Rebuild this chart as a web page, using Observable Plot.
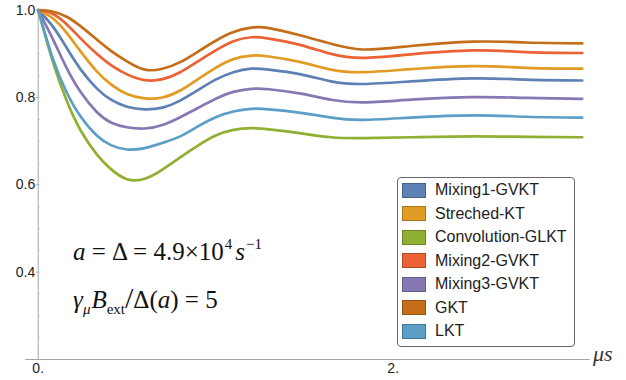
<!DOCTYPE html>
<html><head><meta charset="utf-8">
<script src="https://cdn.jsdelivr.net/npm/d3@7"></script>
<script src="https://cdn.jsdelivr.net/npm/@observablehq/plot@0.6"></script>
<style>
body{margin:0;background:#fff;}
#wrap{position:relative;width:626px;height:380px;overflow:hidden;}
#legend{position:absolute;left:397px;top:177px;width:178px;height:170px;border:1px solid #666;border-radius:4px;box-sizing:border-box;background:#fff;font-family:"Liberation Sans",Arial,sans-serif;font-size:16px;color:#222;}
.row{position:absolute;left:4px;height:18px;display:flex;align-items:center;white-space:nowrap;}
.sw{width:24px;height:15px;margin-right:9px;box-sizing:border-box;border:1px solid rgba(0,0,0,0.25);}
</style></head><body><div id="wrap"></div>
<script>
// time grid (μs)
const xs = [0, 0.08, 0.16, 0.24, 0.33, 0.41, 0.5, 0.6, 0.7, 0.8, 0.9, 1.0, 1.1, 1.2, 1.3, 1.48, 1.65, 1.83, 2.1, 2.45, 2.75, 3.065];
// polarization values
const mixing1 = [1, 0.964, 0.914, 0.864, 0.821, 0.795, 0.779, 0.773, 0.777, 0.793, 0.817, 0.841, 0.858, 0.866, 0.864, 0.853, 0.837, 0.831, 0.837, 0.844, 0.841, 0.839];
const streched = [1, 0.982, 0.948, 0.905, 0.860, 0.830, 0.808, 0.798, 0.800, 0.816, 0.842, 0.868, 0.888, 0.896, 0.894, 0.881, 0.864, 0.858, 0.865, 0.872, 0.868, 0.866];
const convolution = [1, 0.885, 0.793, 0.724, 0.670, 0.636, 0.613, 0.614, 0.635, 0.663, 0.690, 0.713, 0.726, 0.730, 0.727, 0.718, 0.709, 0.707, 0.709, 0.711, 0.710, 0.709];
const mixing2 = [1, 0.992, 0.968, 0.935, 0.900, 0.874, 0.853, 0.840, 0.842, 0.858, 0.883, 0.908, 0.929, 0.938, 0.935, 0.920, 0.900, 0.891, 0.899, 0.908, 0.904, 0.902];
const mixing3 = [1, 0.936, 0.868, 0.812, 0.767, 0.743, 0.732, 0.729, 0.737, 0.755, 0.776, 0.797, 0.813, 0.820, 0.819, 0.809, 0.795, 0.789, 0.795, 0.801, 0.799, 0.797];
const gkt = [1, 0.997, 0.985, 0.963, 0.933, 0.907, 0.883, 0.864, 0.866, 0.881, 0.905, 0.930, 0.950, 0.960, 0.959, 0.942, 0.923, 0.910, 0.918, 0.928, 0.926, 0.924];
const lkt = [1, 0.892, 0.812, 0.756, 0.713, 0.691, 0.681, 0.684, 0.696, 0.711, 0.734, 0.755, 0.768, 0.774, 0.773, 0.765, 0.754, 0.749, 0.754, 0.759, 0.756, 0.754];

const seriesNames = ["Mixing1-GVKT", "Streched-KT", "Convolution-GLKT", "Mixing2-GVKT", "Mixing3-GVKT", "GKT", "LKT"];
const seriesValues = [mixing1, streched, convolution, mixing2, mixing3, gkt, lkt];
const seriesColors = ["#5E81B5", "#E19C24", "#8FB032", "#EB6235", "#8778B3", "#C56E1A", "#5D9EC7"];
const yTicks = [0.4, 0.6, 0.8, 1.0];
const xTicks = [0, 2];

const data = [];
seriesNames.forEach((name, k) => xs.forEach((x, i) => data.push({name, x, y: seriesValues[k][i]})));

const axisColor = "#a6a6a6";
const minor = d3.range(0.25, 1.0001, 0.05).map(v => +v.toFixed(2));

const plot = Plot.plot({
  width: 626,
  height: 380,
  marginLeft: 37.7,
  marginRight: 20.3,
  marginTop: 9.7,
  marginBottom: 21,
  style: {fontFamily: "'Liberation Sans', Arial, sans-serif", fontSize: "14px", color: "#222", background: "#fff"},
  x: {domain: [0, 3.2]},
  y: {domain: [0.2, 1.0]},
  color: {domain: seriesNames, range: seriesColors},
  marks: [
    Plot.ruleY(minor, {y: d => d, x1: 0, x2: 0.014, stroke: "#d6d6d6", strokeWidth: 1}),
    Plot.ruleX([0], {y1: 0.2, y2: 1.0, stroke: axisColor, strokeWidth: 1}),
    Plot.ruleY([0.2], {x1: -0.07, x2: 3.11, stroke: axisColor, strokeWidth: 1}),
    Plot.axisY({ticks: yTicks, tickFormat: d3.format(".1f"), tickSize: 2, tickPadding: 1, stroke: axisColor, label: null}),
    Plot.axisX({ticks: xTicks, tickFormat: d => d + ".", tickSize: 0, tickPadding: 4, label: null}),
    Plot.line(data, {x: "x", y: "y", z: "name", stroke: "name", curve: "natural", strokeWidth: 2.7})
  ]
});

const wrap = document.getElementById("wrap");
wrap.appendChild(plot);

const sx = plot.scale("x"), sy = plot.scale("y");
const svg = d3.select(plot);
// tick labels: force size and colour on every text Plot drew
svg.selectAll("text")
  .style("font-size", "14px")
  .style("font-family", "'Liberation Sans', Arial, sans-serif")
  .style("fill", "#222");
const serif = "'Liberation Serif', 'Times New Roman', serif";

// axis unit label
svg.append("text")
  .attr("x", sx.apply(3.128)).attr("y", sy.apply(0.195))
  .attr("text-anchor", "start")
  .attr("font-family", serif).attr("font-style", "italic").attr("font-size", 22).attr("fill", "#333")
  .text("μs");

// annotation line 1
const t1 = svg.append("text")
  .attr("x", sx.apply(0.199)).attr("y", sy.apply(0.4267))
  .attr("text-anchor", "start")
  .attr("font-family", serif).attr("font-size", 25).attr("fill", "#111");
t1.append("tspan").attr("font-style", "italic").text("a");
t1.append("tspan").text(" = Δ = 4.9×10");
t1.append("tspan").attr("font-size", 15).attr("dy", -11).attr("dx", 1).text("4");
t1.append("tspan").attr("font-style", "italic").attr("dy", 11).attr("dx", 3).text("s");
t1.append("tspan").attr("font-size", 15).attr("dy", -11).attr("dx", 1).text("−1");

// annotation line 2
const t2 = svg.append("text")
  .attr("x", sx.apply(0.199)).attr("y", sy.apply(0.3168))
  .attr("text-anchor", "start")
  .attr("font-family", serif).attr("font-size", 25).attr("fill", "#111");
t2.append("tspan").attr("font-style", "italic").text("γ");
t2.append("tspan").attr("font-style", "italic").attr("font-size", 15).attr("dy", 6).text("μ");
t2.append("tspan").attr("font-style", "italic").attr("dy", -6).attr("dx", 1).text("B");
t2.append("tspan").attr("font-size", 15).attr("dy", 6).text("ext");
t2.append("tspan").attr("dy", -6).attr("font-size", 30).text("/");
t2.append("tspan").text("Δ(");
t2.append("tspan").attr("font-style", "italic").text("a");
t2.append("tspan").text(") = 5");

// legend
const color = plot.scale("color");
const legend = document.createElement("div");
legend.id = "legend";
seriesNames.forEach((name, k) => {
  const row = document.createElement("div");
  row.className = "row";
  row.style.top = (3 + k * 23.5) + "px";
  const sw = document.createElement("div");
  sw.className = "sw";
  sw.style.background = color.apply(name);
  const label = document.createElement("span");
  label.textContent = name;
  row.appendChild(sw);
  row.appendChild(label);
  legend.appendChild(row);
});
wrap.appendChild(legend);
</script>
</body></html>
